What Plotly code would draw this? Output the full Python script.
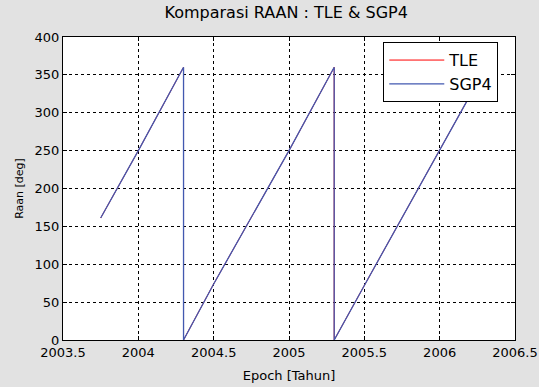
import plotly.graph_objects as go

# Data
epoch = [2003.75, 2004.0, 2004.30, 2004.30, 2004.5, 2005.0, 2005.30, 2005.30, 2005.5, 2006.0, 2006.30]
raan_tle = [161, 250, 360, 0, 74, 250, 360, 0, 72, 250, 358]
raan_sgp4 = [161, 250, 360, 0, 74, 250, 360, 0, 72, 250, 358]

x_ticks = [2003.5, 2004, 2004.5, 2005, 2005.5, 2006, 2006.5]
x_tick_labels = ["2003.5", "2004", "2004.5", "2005", "2005.5", "2006", "2006.5"]
y_ticks = [0, 50, 100, 150, 200, 250, 300, 350, 400]

FONT = "DejaVu Sans, Liberation Sans, Arial, sans-serif"

fig = go.Figure()
fig.add_trace(go.Scatter(x=epoch, y=raan_tle, mode="lines", name="TLE",
                         line=dict(color="#ff0000", width=1)))
fig.add_trace(go.Scatter(x=epoch, y=raan_sgp4, mode="lines", name="SGP4",
                         line=dict(color="#4259b0", width=1.3)))

axis_common = dict(
    showline=True, linecolor="black", linewidth=1, mirror="ticks",
    ticks="inside", ticklen=4, tickcolor="black",
    showgrid=True, gridcolor="black", griddash="dot", gridwidth=1,
    zeroline=False, automargin=False,
    tickfont=dict(family=FONT, size=13, color="black"),
)

fig.update_layout(
    width=539, height=387,
    margin=dict(l=63, r=24, t=37, b=47),
    paper_bgcolor="#e2e2e2",
    plot_bgcolor="white",
    title=dict(text="Komparasi RAAN : TLE & SGP4", x=0.531, xanchor="center",
               y=0.968, yanchor="middle",
               font=dict(family=FONT, size=16, color="black")),
    xaxis=dict(range=[2003.5, 2006.5], tickvals=x_ticks, ticktext=x_tick_labels,
               title=dict(text="Epoch [Tahun]", standoff=12,
                          font=dict(family=FONT, size=13, color="black")),
               **axis_common),
    yaxis=dict(range=[0, 400], tickvals=y_ticks,
               title=dict(text="Raan [deg]", standoff=8,
                          font=dict(family=FONT, size=11, color="black")),
               **axis_common),
    legend=dict(x=0.963, y=0.983, xanchor="right", yanchor="top",
                bgcolor="white", bordercolor="black", borderwidth=1,
                font=dict(family=FONT, size=16, color="black"),
                tracegroupgap=0, itemwidth=55),
    showlegend=True,
)

fig.write_html("out.html")
